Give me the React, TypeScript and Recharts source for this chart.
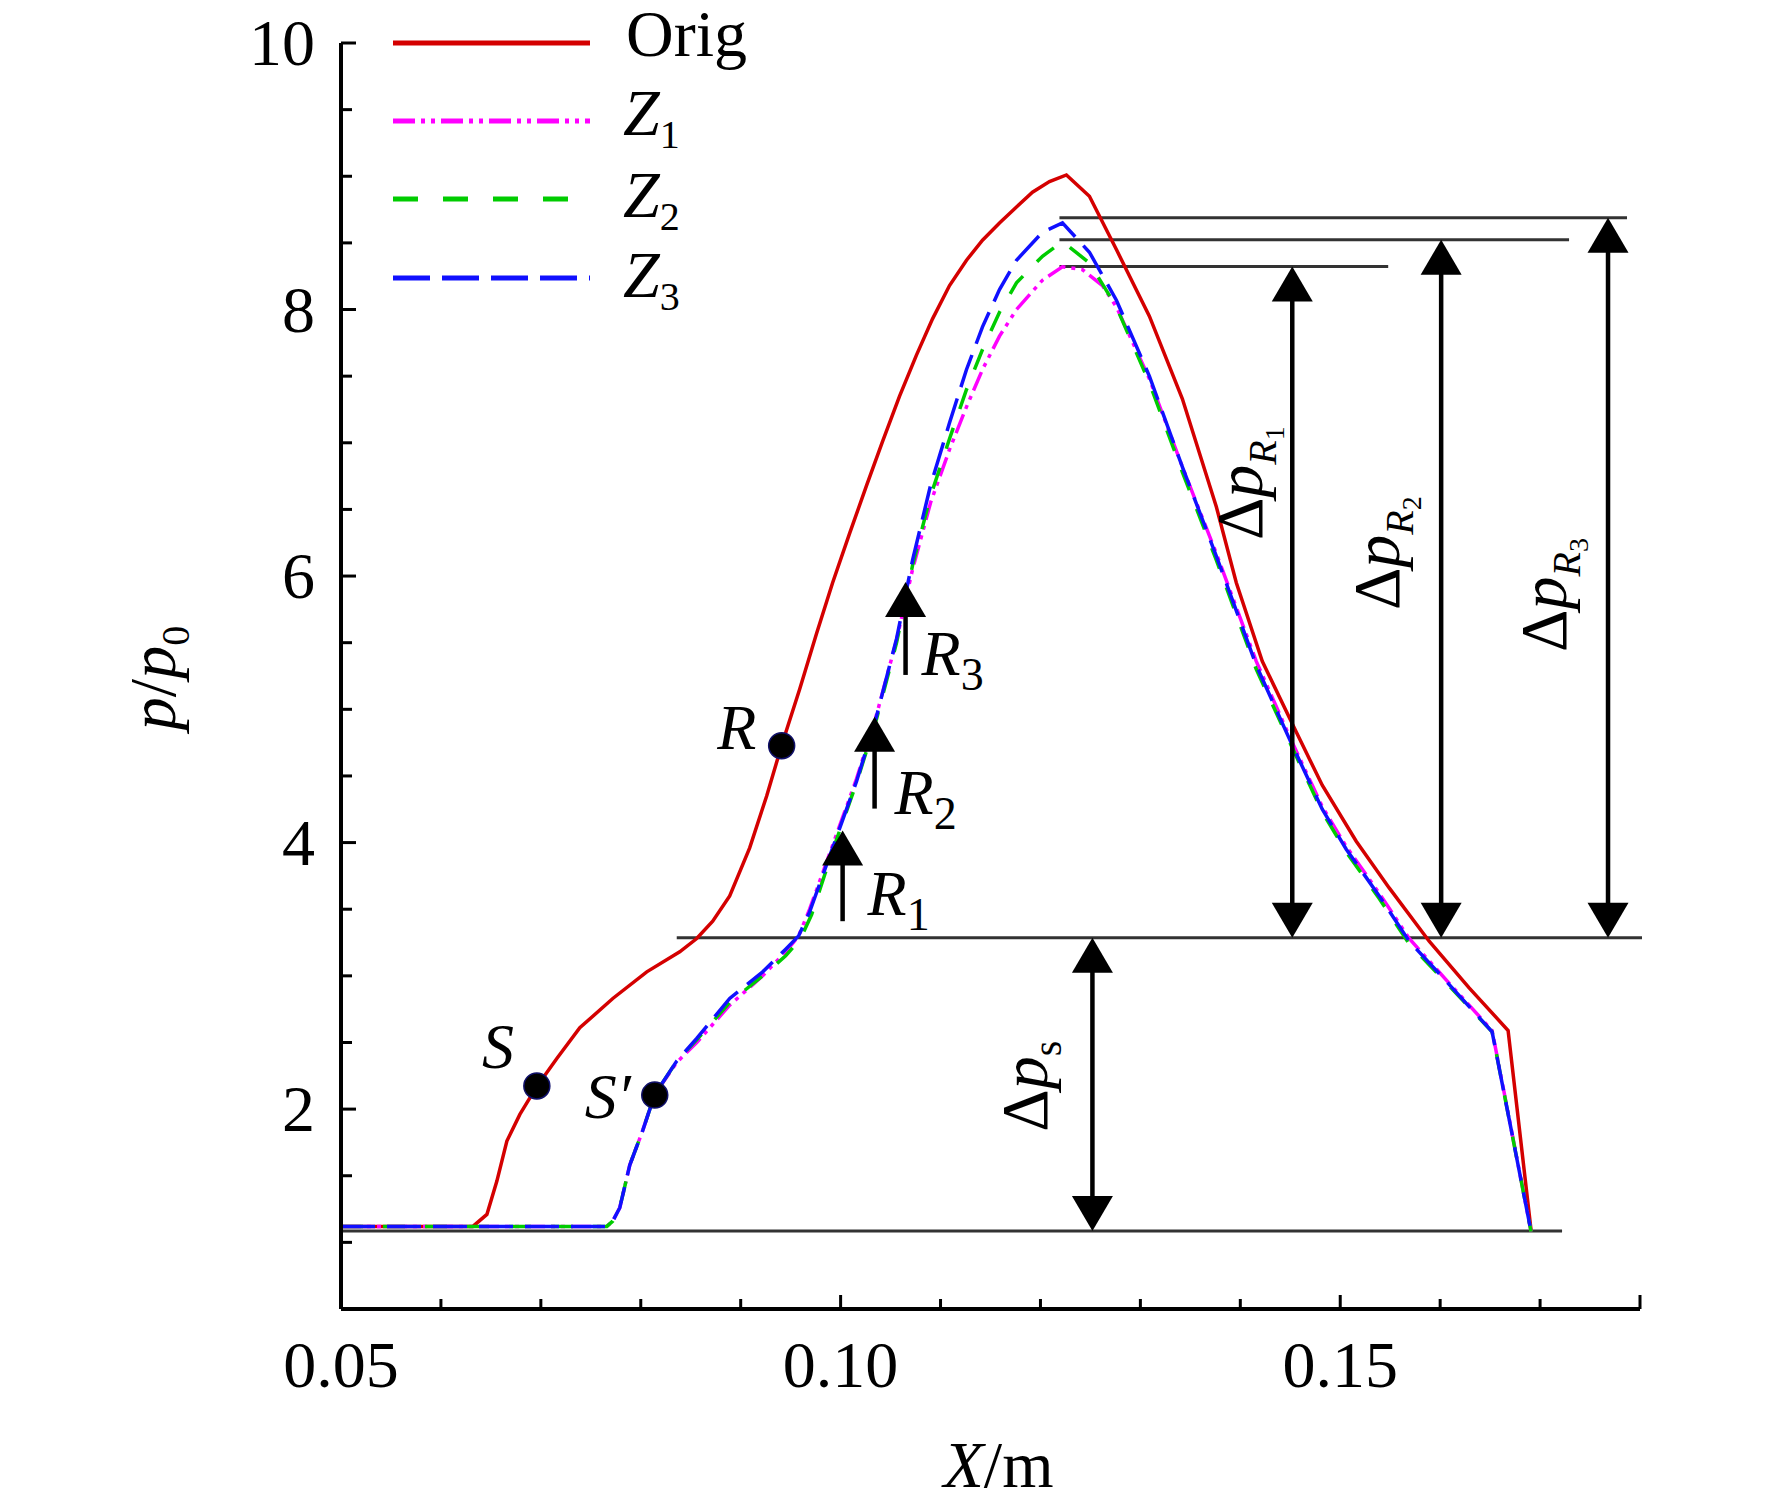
import React from 'react';
import { LineChart, Line, XAxis, YAxis, ReferenceLine, ReferenceDot, Legend, Label } from 'recharts';

const FONT = '"Liberation Serif", "Times New Roman", Times, serif';

// ---------- axis ticks ----------
const X_TICKS = [0.05, 0.06, 0.07, 0.08, 0.09, 0.1, 0.11, 0.12, 0.13, 0.14, 0.15, 0.16, 0.17, 0.18];
const X_TICK_LABELS: Record<string, string> = { '0.05': '0.05', '0.10': '0.10', '0.15': '0.15' };
const X_MAJOR = ['0.05', '0.10', '0.15', '0.18'];
const Y_TICKS = [1, 1.5, 2, 2.5, 3, 3.5, 4, 4.5, 5, 5.5, 6, 6.5, 7, 7.5, 8, 8.5, 9, 9.5, 10];
const Y_TICK_LABELS: Record<string, string> = { '2': '2', '4': '4', '6': '6', '8': '8', '10': '10' };

// ---------- series (x in m, p = p/p0) ----------
const ORIG: number[][] = [
  [0.05, 1.12], [0.0632, 1.12], [0.0646, 1.21], [0.0656, 1.46], [0.0666, 1.76], [0.0679, 1.96],
  [0.0696, 2.17], [0.0716, 2.38], [0.0739, 2.61], [0.0772, 2.83], [0.0806, 3.03], [0.0839, 3.18],
  [0.0856, 3.28], [0.0872, 3.41], [0.0889, 3.6], [0.0909, 3.96], [0.0926, 4.35], [0.0941, 4.73],
  [0.0959, 5.15], [0.0976, 5.57], [0.0992, 5.95], [0.1009, 6.32], [0.1026, 6.68], [0.1042, 7.01],
  [0.1059, 7.35], [0.1076, 7.66], [0.1092, 7.93], [0.1109, 8.18], [0.1126, 8.37], [0.1142, 8.52],
  [0.1159, 8.65], [0.1176, 8.77], [0.1192, 8.88], [0.1209, 8.96], [0.1226, 9.01], [0.1249, 8.85],
  [0.1276, 8.45], [0.1309, 7.95], [0.1342, 7.33], [0.1376, 6.52], [0.1396, 5.95], [0.1422, 5.36],
  [0.1456, 4.83], [0.1482, 4.43], [0.1516, 4.01], [0.1549, 3.66], [0.1589, 3.26], [0.1629, 2.91],
  [0.1668, 2.59], [0.1691, 1.09],
];
const Z1: number[][] = [
  [0.05, 1.12], [0.0766, 1.12], [0.0772, 1.16], [0.0779, 1.26], [0.0789, 1.58], [0.0802, 1.84],
  [0.0814, 2.11], [0.0836, 2.35], [0.0856, 2.5], [0.0889, 2.78], [0.0922, 3.0], [0.0945, 3.18],
  [0.0958, 3.3], [0.0969, 3.5], [0.0992, 3.98], [0.1016, 4.48], [0.1036, 4.96], [0.1056, 5.52],
  [0.1072, 6.05], [0.109, 6.55], [0.1109, 6.95], [0.1126, 7.27], [0.1142, 7.55], [0.1159, 7.8],
  [0.1176, 8.0], [0.1202, 8.22], [0.1222, 8.32], [0.1242, 8.3], [0.1262, 8.18], [0.1276, 8.02],
  [0.1309, 7.48], [0.1342, 6.82], [0.1376, 6.17], [0.1416, 5.36], [0.1449, 4.8], [0.1482, 4.27],
  [0.1506, 3.97], [0.1539, 3.62], [0.1569, 3.28], [0.1606, 2.97], [0.1652, 2.59], [0.1691, 1.08],
];
const Z2: number[][] = [
  [0.05, 1.12], [0.0766, 1.12], [0.0772, 1.16], [0.0779, 1.26], [0.0789, 1.58], [0.0802, 1.84],
  [0.0814, 2.11], [0.0836, 2.36], [0.0856, 2.52], [0.0889, 2.8], [0.0922, 3.0], [0.0945, 3.15],
  [0.096, 3.28], [0.0971, 3.46], [0.0992, 3.94], [0.1016, 4.45], [0.1036, 4.93], [0.1056, 5.5],
  [0.1072, 6.08], [0.109, 6.6], [0.1109, 7.03], [0.1126, 7.4], [0.1142, 7.7], [0.1159, 7.98],
  [0.1176, 8.2], [0.1202, 8.4], [0.1222, 8.51], [0.1249, 8.35], [0.1276, 8.02], [0.1309, 7.45],
  [0.1342, 6.78], [0.1376, 6.12], [0.1416, 5.3], [0.1449, 4.76], [0.1482, 4.23], [0.1506, 3.93],
  [0.1539, 3.58], [0.1569, 3.24], [0.1606, 2.95], [0.1652, 2.58], [0.1691, 1.08],
];
const Z3: number[][] = [
  [0.05, 1.12], [0.0766, 1.12], [0.0772, 1.16], [0.0779, 1.26], [0.0789, 1.58], [0.0802, 1.84],
  [0.0814, 2.11], [0.0836, 2.36], [0.0856, 2.53], [0.0889, 2.83], [0.0922, 3.03], [0.0945, 3.2],
  [0.0958, 3.3], [0.0969, 3.48], [0.0992, 3.96], [0.1016, 4.46], [0.1036, 4.95], [0.1056, 5.53],
  [0.1072, 6.12], [0.109, 6.68], [0.1109, 7.15], [0.1126, 7.55], [0.1142, 7.87], [0.1159, 8.15],
  [0.1176, 8.37], [0.1202, 8.58], [0.1222, 8.65], [0.1249, 8.43], [0.1276, 8.07], [0.1309, 7.5],
  [0.1342, 6.82], [0.1376, 6.15], [0.1416, 5.33], [0.1449, 4.78], [0.1482, 4.25], [0.1506, 3.95],
  [0.1539, 3.6], [0.1569, 3.26], [0.1606, 2.96], [0.1652, 2.58], [0.1691, 1.08],
];

// ---------- annotations (data units) ----------
const LEVEL_LINES = [
  { p: 8.689, from: 0.1219, to: 0.1787 },
  { p: 8.524, from: 0.1219, to: 0.1729 },
  { p: 8.322, from: 0.1219, to: 0.1548 },
  { p: 3.285, from: 0.0836, to: 0.1802 },
  { p: 1.086, from: 0.05, to: 0.1722 },
];
const DELTA_ARROWS = [
  { x: 0.1452, low: 3.285, high: 8.322 },
  { x: 0.1601, low: 3.285, high: 8.524 },
  { x: 0.1768, low: 3.285, high: 8.689 },
  { x: 0.1252, low: 1.086, high: 3.285 },
];
const R_ARROWS = [
  { x: 0.1002, tail: 3.41, tip: 4.09 },
  { x: 0.1034, tail: 4.255, tip: 4.944 },
  { x: 0.1065, tail: 5.258, tip: 5.955 },
];
const POINTS = [
  { name: 'S', x: 0.0696, p: 2.174 },
  { name: "S'", x: 0.0814, p: 2.105 },
  { name: 'R', x: 0.0941, p: 4.727 },
];
const POINT_LABELS = [
  { main: 'S', prime: false, x: 0.0657, p: 2.307 },
  { main: 'S', prime: true, x: 0.0767, p: 1.933 },
  { main: 'R', prime: false, x: 0.0896, p: 4.704 },
];
const R_LABELS = [
  { sub: '1', x: 0.1027, p: 3.453 },
  { sub: '2', x: 0.1054, p: 4.217 },
  { sub: '3', x: 0.1081, p: 5.258 },
];
const DELTA_LABELS = [
  { sub: 'R', subsub: '1', x: 0.1422, p: 6.697 },
  { sub: 'R', subsub: '2', x: 0.1559, p: 6.172 },
  { sub: 'R', subsub: '3', x: 0.1726, p: 5.858 },
  { sub: 's', subsub: '', x: 0.1207, p: 2.172 },
];

const toPts = (rows: number[][]) => rows.map(([x, p]) => ({ x, p }));

const SERIES = [
  { name: 'Orig', data: toPts(ORIG), color: '#d40000', dash: undefined as string | undefined, legendDash: undefined as string | undefined },
  { name: 'Z1', data: toPts(Z1), color: '#ff00ff', dash: '20 6 4 6 4 6', legendDash: '22 6 4 6 4 6' },
  { name: 'Z2', data: toPts(Z2), color: '#00cc00', dash: '22 20', legendDash: '25 25' },
  { name: 'Z3', data: toPts(Z3), color: '#1010ff', dash: '34 12', legendDash: '37 12' },
];

// ---------- custom renderers ----------
const XTick = (props: any) => {
  const { x, y, payload } = props;
  const key = Number(payload.value).toFixed(2);
  const major = X_MAJOR.includes(key);
  const label = X_TICK_LABELS[key];
  return (
    <g>
      <line x1={x} x2={x} y1={y} y2={y - (major ? 14 : 10)} stroke="#000" strokeWidth={3} />
      {label && (
        <text x={x} y={y + 78} textAnchor="middle" fontFamily={FONT} fontSize={66} fill="#000">
          {label}
        </text>
      )}
    </g>
  );
};

const YTick = (props: any) => {
  const { x, y, payload } = props;
  const key = String(Number(payload.value));
  const label = Y_TICK_LABELS[key];
  return (
    <g>
      <line x1={x} x2={x + (label ? 15 : 11)} y1={y} y2={y} stroke="#000" strokeWidth={3} />
      {label && (
        <text x={x - 26} y={y + 22} textAnchor="end" fontFamily={FONT} fontSize={66} fill="#000">
          {label}
        </text>
      )}
    </g>
  );
};

const XTitle = (props: any) => {
  const { x, y, width } = props.viewBox;
  return (
    <text x={x + width / 2 + 8} y={y + 178} textAnchor="middle" fontFamily={FONT} fontSize={66} fill="#000">
      <tspan fontStyle="italic">X</tspan>
      <tspan>/m</tspan>
    </text>
  );
};

const YTitle = (props: any) => {
  const { x, y, width, height } = props.viewBox;
  const cx = x + width - 166;
  const cy = y + height / 2 + 2;
  return (
    <text x={cx} y={cy} transform={`rotate(-90 ${cx} ${cy})`} textAnchor="middle" fontFamily={FONT} fontSize={66} fill="#000">
      <tspan fontStyle="italic">p</tspan>
      <tspan>/</tspan>
      <tspan fontStyle="italic">p</tspan>
      <tspan fontSize={40} dy={14}>0</tspan>
    </text>
  );
};

const HEAD_W = 41;
const HEAD_H = 35;
const headPath = (tx: number, ty: number, d: number) =>
  `M${tx},${ty} L${tx - HEAD_W / 2},${ty - d * HEAD_H} L${tx + HEAD_W / 2},${ty - d * HEAD_H} Z`;

const arrowShape = (both: boolean) => (props: any) => {
  const { x1, y1, x2, y2 } = props;
  const d = y2 < y1 ? -1 : 1;
  const sy2 = y2 - d * HEAD_H * 0.9;
  const sy1 = both ? y1 + d * HEAD_H * 0.9 : y1;
  return (
    <g>
      <line x1={x1} y1={sy1} x2={x2} y2={sy2} stroke="#000" strokeWidth={4.5} />
      <path d={headPath(x2, y2, d)} fill="#000" />
      {both && <path d={headPath(x1, y1, -d)} fill="#000" />}
    </g>
  );
};

const dotShape = (props: any) => (
  <circle cx={props.cx} cy={props.cy} r={13} fill="#000" stroke="#10106a" strokeWidth={1.5} />
);

const pointLabelShape = (main: string, prime: boolean) => (props: any) => (
  <text x={props.cx} y={props.cy} textAnchor="middle" fontFamily={FONT} fontSize={64} fontStyle="italic" fill="#000">
    {main}
    {prime ? '\u2032' : ''}
  </text>
);

const rLabelShape = (sub: string) => (props: any) => (
  <text x={props.cx} y={props.cy} textAnchor="start" fontFamily={FONT} fontSize={64} fill="#000">
    <tspan fontStyle="italic">R</tspan>
    <tspan fontSize={46} dy={15}>{sub}</tspan>
  </text>
);

const deltaLabelShape = (sub: string, subsub: string) => (props: any) => {
  const { cx, cy } = props;
  return (
    <text x={cx} y={cy} transform={`rotate(-90 ${cx} ${cy})`} textAnchor="middle" fontFamily={FONT} fontSize={66} fill="#000">
      <tspan>{'\u0394'}</tspan>
      <tspan fontStyle="italic">p</tspan>
      <tspan fontStyle={subsub ? 'italic' : 'normal'} fontSize={40} dy={14}>{sub}</tspan>
      {subsub ? <tspan fontSize={28} dy={8}>{subsub}</tspan> : null}
    </text>
  );
};

const LEGEND_ROW_Y = [43, 121, 199, 278];
const LEGEND_TEXT_Y = [56, 135, 217, 297];

const renderLegend = (props: any) => {
  const payload: any[] = props.payload || [];
  return (
    <svg width={800} height={330} style={{ display: 'block', overflow: 'visible' }}>
      {SERIES.map((s, i) => {
        const item = payload.find((p) => p.value === s.name);
        const color = item?.color || s.color;
        return (
          <g key={s.name}>
            <line x1={393} x2={590} y1={LEGEND_ROW_Y[i]} y2={LEGEND_ROW_Y[i]} stroke={color} strokeWidth={5} strokeDasharray={s.legendDash} />
            {s.name === 'Orig' ? (
              <text x={626} y={LEGEND_TEXT_Y[i]} fontFamily={FONT} fontSize={66} fill="#000">Orig</text>
            ) : (
              <text x={623} y={LEGEND_TEXT_Y[i]} fontFamily={FONT} fontSize={66} fill="#000">
                <tspan fontStyle="italic">Z</tspan>
                <tspan fontSize={40} dy={13}>{s.name.slice(1)}</tspan>
              </text>
            )}
          </g>
        );
      })}
    </svg>
  );
};

export default function App() {
  return (
    <div style={{ position: 'absolute', left: 0, top: 0, width: 1772, height: 1507, background: '#fff' }}>
      <LineChart width={1772} height={1507} margin={{ top: 43, right: 132, bottom: 197, left: 340 }}>
        <XAxis
          dataKey="x"
          type="number"
          domain={[0.05, 0.18]}
          allowDataOverflow
          ticks={X_TICKS}
          interval={0}
          height={1}
          tickSize={0}
          tickMargin={0}
          tickLine={false}
          tick={<XTick />}
          axisLine={{ stroke: '#000', strokeWidth: 4 }}
        >
          <Label content={<XTitle />} />
        </XAxis>
        <YAxis
          dataKey="p"
          type="number"
          domain={[0.5, 10]}
          allowDataOverflow
          ticks={Y_TICKS}
          interval={0}
          width={1}
          tickSize={0}
          tickMargin={0}
          tickLine={false}
          tick={<YTick />}
          axisLine={{ stroke: '#000', strokeWidth: 4 }}
        >
          <Label content={<YTitle />} />
        </YAxis>
        <Legend content={renderLegend} layout="horizontal" verticalAlign="middle" align="center" wrapperStyle={{ position: 'absolute', left: 0, top: 0, width: 800, height: 330 }} />

        {LEVEL_LINES.map((l, i) => (
          <ReferenceLine
            key={'lvl' + i}
            segment={[{ x: l.from, y: l.p }, { x: l.to, y: l.p }]}
            stroke="#333"
            strokeWidth={3}
            ifOverflow="visible"
          />
        ))}

        {SERIES.map((s) => (
          <Line
            key={s.name}
            name={s.name}
            data={s.data}
            dataKey="p"
            type="linear"
            stroke={s.color}
            strokeWidth={3.5}
            strokeDasharray={s.dash}
            dot={false}
            activeDot={false}
            isAnimationActive={false}
          />
        ))}

        {DELTA_ARROWS.map((a, i) => (
          <ReferenceLine
            key={'da' + i}
            segment={[{ x: a.x, y: a.low }, { x: a.x, y: a.high }]}
            shape={arrowShape(true)}
            ifOverflow="visible"
          />
        ))}
        {R_ARROWS.map((a, i) => (
          <ReferenceLine
            key={'ra' + i}
            segment={[{ x: a.x, y: a.tail }, { x: a.x, y: a.tip }]}
            shape={arrowShape(false)}
            ifOverflow="visible"
          />
        ))}

        {POINTS.map((pt) => (
          <ReferenceDot key={'pt' + pt.name} x={pt.x} y={pt.p} r={13} shape={dotShape} ifOverflow="visible" />
        ))}
        {POINT_LABELS.map((l, i) => (
          <ReferenceDot key={'pl' + i} x={l.x} y={l.p} r={1} shape={pointLabelShape(l.main, l.prime)} ifOverflow="visible" />
        ))}
        {R_LABELS.map((l, i) => (
          <ReferenceDot key={'rl' + i} x={l.x} y={l.p} r={1} shape={rLabelShape(l.sub)} ifOverflow="visible" />
        ))}
        {DELTA_LABELS.map((l, i) => (
          <ReferenceDot key={'dl' + i} x={l.x} y={l.p} r={1} shape={deltaLabelShape(l.sub, l.subsub)} ifOverflow="visible" />
        ))}
      </LineChart>
    </div>
  );
}
